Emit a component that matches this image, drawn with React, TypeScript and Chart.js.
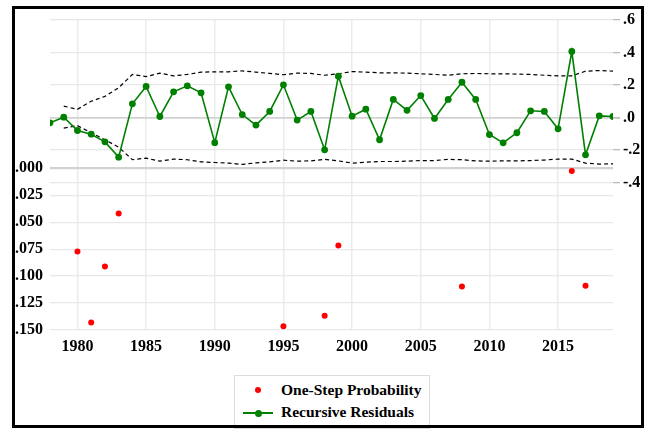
import { useEffect, useRef } from "react";
import { Chart, registerables } from "chart.js";

Chart.register(...registerables);

const years = [
  1978, 1979, 1980, 1981, 1982, 1983, 1984, 1985, 1986, 1987, 1988, 1989,
  1990, 1991, 1992, 1993, 1994, 1995, 1996, 1997, 1998, 1999,
  2000, 2001, 2002, 2003, 2004, 2005, 2006, 2007, 2008, 2009,
  2010, 2011, 2012, 2013, 2014, 2015, 2016, 2017, 2018, 2019,
];

const residuals = [
  -0.033, 0.002, -0.08, -0.103, -0.15, -0.244, 0.084, 0.191, 0.006, 0.158, 0.195, 0.152,
  -0.155, 0.189, 0.018, -0.047, 0.037, 0.201, -0.016, 0.037, -0.199, 0.254,
  0.008, 0.051, -0.137, 0.111, 0.044, 0.135, -0.006, 0.111, 0.217, 0.111,
  -0.105, -0.156, -0.094, 0.041, 0.037, -0.07, 0.406, -0.23, 0.01, 0.006,
];

// +/- 2 S.E. bands, 1979-2019
const bandYears = years.slice(1);
const upperBand = [
  0.07, 0.05, 0.1, 0.13, 0.183, 0.265, 0.252, 0.273, 0.256, 0.265, 0.279,
  0.281, 0.281, 0.287, 0.279, 0.271, 0.263, 0.273, 0.271, 0.26, 0.269,
  0.283, 0.279, 0.275, 0.275, 0.273, 0.269, 0.265, 0.26, 0.269, 0.271,
  0.269, 0.269, 0.267, 0.265, 0.26, 0.256, 0.256, 0.285, 0.289, 0.285,
];
const lowerBand = [
  -0.066, -0.05, -0.094, -0.137, -0.183, -0.26, -0.25, -0.269, -0.256, -0.26, -0.273,
  -0.277, -0.281, -0.289, -0.279, -0.273, -0.263, -0.269, -0.267, -0.258, -0.267,
  -0.281, -0.275, -0.271, -0.271, -0.269, -0.265, -0.265, -0.258, -0.26, -0.267,
  -0.269, -0.267, -0.267, -0.265, -0.262, -0.256, -0.256, -0.281, -0.287, -0.285,
];

const probYears = [1980, 1981, 1982, 1983, 1995, 1998, 1999, 2008, 2016, 2017];
const probValues = [0.0772, 0.143, 0.091, 0.042, 0.1466, 0.1368, 0.0716, 0.1096, 0.0025, 0.109];

const xTicks = [1980, 1985, 1990, 1995, 2000, 2005, 2010, 2015];
const leftTicks = [0, 0.025, 0.05, 0.075, 0.1, 0.125, 0.15];
const rightTicks = [0.6, 0.4, 0.2, 0, -0.2, -0.4];

const seriesLabels = ["One-Step Probability", "Recursive Residuals"];

const FONT = '"Liberation Serif", Tinos, "Times New Roman", Times, "DejaVu Serif", serif';
const GREEN = "#008000";
const RED = "#ff0000";

function fmtLeft(v: number): string {
  return v.toFixed(3).replace(/^0/, "");
}
function fmtRight(v: number): string {
  const s = Math.abs(v).toFixed(1).replace(/^0/, "");
  return v < 0 ? "-" + s : s;
}

export default function App() {
  const ref = useRef<HTMLCanvasElement | null>(null);

  useEffect(() => {
    if (!ref.current) return;
    const tickFont = { family: FONT, size: 16, weight: "bold" as const };
    const chart = new Chart(ref.current, {
      type: "line",
      data: {
        datasets: [
          {
            label: seriesLabels[0],
            data: probYears.map((x, i) => ({ x, y: probValues[i] })),
            yAxisID: "yL",
            showLine: false,
            pointRadius: 3,
            pointBackgroundColor: RED,
            pointBorderWidth: 0,
            borderColor: RED,
            order: 0,
          },
          {
            label: seriesLabels[1],
            data: years.map((x, i) => ({ x, y: residuals[i] })),
            yAxisID: "yR",
            borderColor: GREEN,
            borderWidth: 1.6,
            pointRadius: 3.4,
            pointBackgroundColor: GREEN,
            pointBorderWidth: 0,
            tension: 0,
            order: 1,
          },
          {
            label: "upper",
            data: bandYears.map((x, i) => ({ x, y: upperBand[i] })),
            yAxisID: "yR",
            borderColor: "#000",
            borderWidth: 1.2,
            borderDash: [4, 3],
            pointRadius: 0,
            order: 2,
          },
          {
            label: "lower",
            data: bandYears.map((x, i) => ({ x, y: lowerBand[i] })),
            yAxisID: "yR",
            borderColor: "#000",
            borderWidth: 1.2,
            borderDash: [4, 3],
            pointRadius: 0,
            order: 2,
          },
        ],
      },
      options: {
        animation: false,
        responsive: false,
        layout: { padding: { top: 20, left: 0, right: 0, bottom: 0 } },
        plugins: { legend: { display: false }, tooltip: { enabled: false } },
        scales: {
          x: {
            type: "linear",
            min: 1978,
            max: 2019,
            afterFit: (s: any) => {
              s.height = 99;
            },
            afterBuildTicks: (s: any) => {
              s.ticks = xTicks.map((v) => ({ value: v }));
            },
            grid: { color: "#ebebeb", lineWidth: 1.5, drawTicks: false },
            border: { display: false },
            ticks: {
              padding: 7,
              color: "#000",
              font: tickFont,
              maxRotation: 0,
              autoSkip: false,
              callback: (v: any) => String(v),
            },
          },
          yL: {
            type: "linear",
            position: "left",
            reverse: true,
            min: -0.1376,
            max: 0.15,
            afterFit: (s: any) => {
              s.width = 50;
            },
            afterBuildTicks: (s: any) => {
              s.ticks = leftTicks.map((v) => ({ value: v }));
            },
            grid: {
              drawTicks: false,
              color: (c: any) => (c.tick && c.tick.value === 0 ? "#d2d2d2" : "#e8e8e8"),
              lineWidth: (c: any) => (c.tick && c.tick.value === 0 ? 2.2 : 1.3),
            },
            border: { display: false },
            ticks: {
              padding: 7,
              color: "#000",
              font: tickFont,
              autoSkip: false,
              callback: (v: any) => fmtLeft(Number(v)),
            },
          },
          yR: {
            type: "linear",
            position: "right",
            min: -1.308,
            max: 0.6,
            afterFit: (s: any) => {
              s.width = 32;
            },
            afterBuildTicks: (s: any) => {
              s.ticks = rightTicks.map((v) => ({ value: v }));
            },
            grid: {
              drawTicks: true,
              tickLength: 7,
              tickColor: "#bdbdbd",
              color: (c: any) => (c.tick && c.tick.value === 0 ? "#d2d2d2" : "#e8e8e8"),
              lineWidth: (c: any) => (c.tick && c.tick.value === 0 ? 1.8 : 1.3),
            },
            border: { display: false },
            ticks: {
              padding: 3,
              color: "#000",
              font: tickFont,
              autoSkip: false,
              callback: (v: any) => fmtRight(Number(v)),
            },
          },
        },
      },
    });
    let alive = true;
    const fonts = (document as any).fonts;
    if (fonts && fonts.load) {
      fonts
        .load('bold 16px "Liberation Serif"')
        .then(() => {
          if (alive) chart.update();
        })
        .catch(() => {});
    }
    return () => {
      alive = false;
      chart.destroy();
    };
  }, []);

  const legendText: React.CSSProperties = {
    position: "absolute",
    left: 46,
    fontFamily: FONT,
    fontWeight: "bold",
    fontSize: 15.5,
    lineHeight: "18px",
    color: "#000",
    whiteSpace: "nowrap",
  };

  return (
    <div
      style={{
        position: "fixed",
        left: 0,
        top: 0,
        width: 645,
        height: 429,
        background: "#fff",
        overflow: "hidden",
        fontFamily: FONT,
      }}
    >
      <canvas
        ref={ref}
        width={645}
        height={429}
        style={{ position: "absolute", left: 0, top: 0, width: 645, height: 429 }}
      />
      <div
        style={{
          position: "absolute",
          left: 234,
          top: 375,
          width: 196,
          height: 54,
          boxSizing: "border-box",
          border: "1px solid #dcdcdc",
          background: "#fff",
        }}
      >
        <div
          style={{
            position: "absolute",
            left: 20,
            top: 11,
            width: 6,
            height: 6,
            borderRadius: 3,
            background: RED,
          }}
        />
        <div style={{ ...legendText, top: 5 }}>{seriesLabels[0]}</div>
        <div
          style={{
            position: "absolute",
            left: 8,
            top: 36,
            width: 30,
            height: 2,
            background: GREEN,
          }}
        />
        <div
          style={{
            position: "absolute",
            left: 19.5,
            top: 33.5,
            width: 7,
            height: 7,
            borderRadius: 3.5,
            background: GREEN,
          }}
        />
        <div style={{ ...legendText, top: 27 }}>{seriesLabels[1]}</div>
      </div>
      <div
        style={{
          position: "absolute",
          left: 12,
          top: 6,
          width: 632,
          height: 422,
          boxSizing: "border-box",
          border: "3px solid #000",
          pointerEvents: "none",
        }}
      />
    </div>
  );
}
